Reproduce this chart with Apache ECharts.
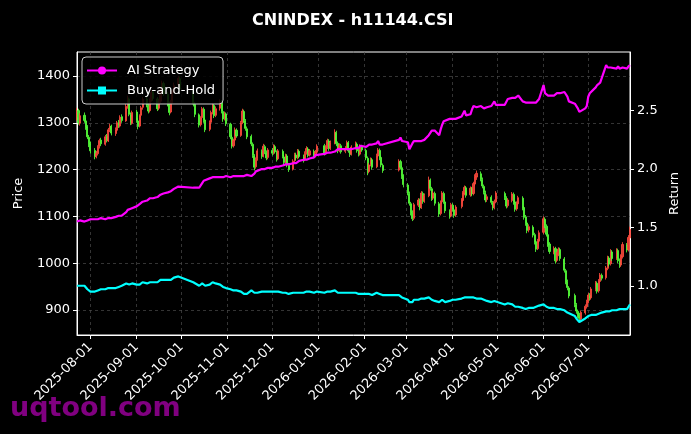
<!DOCTYPE html>
<html>
<head>
<meta charset="utf-8">
<title>CNINDEX - h11144.CSI</title>
<script src="https://cdn.jsdelivr.net/npm/echarts@6/dist/echarts.min.js"></script>
<style>
    html, body { margin: 0; padding: 0; background: #000; }
    #main { width: 691px; height: 434px; }
</style>
</head>
<body>
<div id="main"></div>
<script>
// 交易日历
var firstDay = '2025-07-23';
var lastDay = '2026-07-29';
var holidays = ['2025-10-01', '2025-10-02', '2025-10-03', '2025-10-06', '2025-10-07', '2025-10-08',
    '2026-01-01', '2026-01-02', '2026-02-16', '2026-02-17', '2026-02-18', '2026-02-19', '2026-02-20',
    '2026-02-23', '2026-04-06', '2026-05-01', '2026-05-04', '2026-05-05', '2026-06-19'];

// 刻度
var priceTicks = [900, 1000, 1100, 1200, 1300, 1400];
var returnTicks = [1.0, 1.5, 2.0, 2.5];

// K线 [open, close, low, high]
var candles = [
    // 2025-07
    [1312,1325,1305,1332],[1326,1300,1296,1330],[1299,1315,1294,1320],[1316,1305,1300,1322],[1304,1290,1285,1310],
    [1291,1270,1265,1295],[1269,1255,1248,1274],
    // 2025-08
    [1256,1240,1234,1260],[1241,1228,1222,1246],[1227,1235,1224,1240],[1234,1248,1230,1252],[1249,1262,1245,1266],
    [1263,1255,1250,1268],[1254,1270,1251,1274],[1271,1262,1258,1276],[1261,1285,1259,1289],[1286,1292,1280,1298],
    [1293,1278,1273,1296],[1277,1285,1272,1290],[1284,1300,1281,1304],[1301,1294,1289,1306],[1293,1312,1290,1316],
    [1313,1305,1300,1318],[1304,1335,1302,1340],[1336,1350,1330,1358],[1351,1318,1314,1354],[1317,1300,1295,1322],
    [1299,1322,1296,1326],
    // 2025-09
    [1323,1305,1300,1328],[1304,1292,1286,1310],[1293,1315,1290,1318],[1316,1332,1312,1336],[1333,1350,1328,1355],
    [1351,1338,1333,1356],[1337,1325,1320,1342],[1326,1348,1322,1352],[1349,1365,1345,1370],[1366,1352,1347,1370],
    [1351,1330,1325,1355],[1331,1345,1327,1350],[1346,1370,1342,1374],[1371,1385,1366,1390],[1384,1362,1357,1388],
    [1361,1340,1335,1366],[1341,1322,1316,1345],[1323,1345,1320,1349],[1346,1368,1342,1372],[1369,1380,1363,1386],
    [1381,1395,1376,1400],[1394,1372,1368,1398],
    // 2025-10
    [1368,1340,1335,1372],[1339,1318,1312,1344],[1317,1295,1290,1320],[1296,1310,1292,1314],[1311,1330,1307,1334],
    [1329,1305,1300,1333],[1306,1285,1280,1310],[1286,1300,1282,1305],[1301,1322,1297,1326],[1323,1338,1318,1342],
    [1337,1315,1310,1340],[1316,1330,1312,1335],[1331,1345,1326,1350],[1344,1325,1320,1348],[1324,1308,1302,1328],
    [1309,1320,1305,1324],[1319,1298,1293,1322],
    // 2025-11
    [1297,1270,1265,1300],[1269,1250,1245,1274],[1251,1262,1247,1266],[1263,1285,1260,1290],[1284,1272,1268,1288],
    [1273,1300,1270,1304],[1301,1325,1297,1330],[1324,1305,1300,1328],[1304,1288,1283,1308],[1287,1270,1265,1292],
    [1271,1255,1250,1275],[1254,1230,1225,1258],[1229,1205,1198,1233],[1206,1222,1202,1226],[1223,1240,1219,1245],
    [1239,1228,1223,1243],[1229,1250,1226,1255],[1249,1238,1233,1253],[1237,1225,1220,1241],[1226,1242,1222,1246],
    // 2025-12
    [1241,1235,1230,1246],[1236,1250,1232,1254],[1249,1238,1234,1253],[1237,1222,1217,1241],[1223,1240,1220,1244],
    [1239,1228,1224,1243],[1227,1215,1210,1231],[1216,1230,1212,1234],[1229,1210,1205,1233],[1209,1200,1195,1214],
    [1201,1218,1198,1222],[1219,1232,1215,1236],[1231,1225,1220,1236],[1226,1240,1222,1244],[1239,1228,1224,1243],
    [1227,1220,1215,1232],[1221,1235,1218,1239],[1236,1245,1232,1250],[1244,1230,1226,1248],[1231,1240,1228,1244],
    [1239,1228,1224,1243],[1229,1238,1226,1242],[1237,1250,1234,1254],
    // 2026-01
    [1251,1235,1230,1255],[1236,1248,1232,1252],[1247,1262,1244,1266],[1261,1245,1240,1265],[1246,1258,1242,1262],
    [1257,1280,1254,1286],[1279,1255,1250,1283],[1256,1240,1235,1260],[1241,1252,1237,1256],[1251,1238,1234,1255],
    [1239,1245,1235,1250],[1246,1258,1242,1262],[1257,1240,1236,1261],[1241,1232,1227,1245],[1233,1248,1230,1252],
    [1247,1255,1243,1260],[1254,1240,1236,1258],[1241,1232,1228,1245],[1233,1250,1230,1254],[1249,1242,1238,1253],
    // 2026-02
    [1241,1225,1220,1245],[1224,1195,1188,1228],[1196,1210,1192,1214],[1211,1222,1207,1226],[1221,1205,1200,1225],
    [1206,1230,1203,1234],[1229,1242,1226,1246],[1241,1225,1220,1245],[1226,1210,1205,1230],[1209,1198,1193,1213],
    [1199,1218,1196,1222],[1217,1205,1200,1221],[1204,1185,1180,1208],[1186,1168,1162,1190],
    // 2026-03
    [1167,1150,1145,1171],[1149,1128,1123,1153],[1127,1108,1102,1131],[1109,1095,1090,1113],[1096,1125,1092,1129],
    [1124,1135,1120,1139],[1134,1118,1113,1138],[1119,1150,1116,1154],[1149,1132,1127,1153],[1133,1145,1129,1149],
    [1144,1178,1141,1185],[1177,1160,1155,1181],[1159,1138,1133,1163],[1139,1150,1135,1154],[1149,1128,1123,1153],
    [1127,1105,1099,1131],[1106,1130,1102,1134],[1131,1150,1127,1154],[1149,1132,1127,1153],[1131,1112,1107,1135],
    [1111,1100,1095,1115],[1101,1125,1098,1129],
    // 2026-04
    [1124,1115,1110,1128],[1114,1102,1097,1118],[1103,1120,1099,1124],[1121,1135,1117,1139],[1134,1150,1130,1154],
    [1149,1162,1145,1166],[1161,1145,1140,1165],[1146,1160,1142,1164],[1159,1148,1143,1163],[1149,1170,1145,1174],
    [1169,1185,1165,1190],[1184,1192,1178,1198],[1191,1180,1175,1196],[1179,1165,1160,1183],[1164,1152,1147,1168],
    [1151,1135,1130,1155],[1136,1142,1131,1147],[1141,1130,1125,1145],[1129,1118,1113,1133],[1119,1132,1115,1136],
    [1131,1150,1128,1154],
    // 2026-05
    [1149,1140,1135,1153],[1139,1122,1117,1143],[1123,1135,1119,1139],[1134,1148,1130,1152],[1147,1130,1125,1151],
    [1131,1115,1110,1135],[1116,1128,1112,1132],[1127,1140,1123,1144],[1139,1118,1113,1143],[1119,1098,1093,1122],
    [1099,1085,1080,1103],[1086,1070,1064,1090],[1071,1078,1066,1083],[1077,1060,1055,1081],[1061,1045,1040,1065],
    [1046,1030,1024,1050],[1031,1048,1028,1052],[1047,1065,1043,1070],
    // 2026-06
    [1066,1095,1062,1100],[1094,1080,1075,1098],[1079,1062,1057,1083],[1061,1040,1035,1065],[1041,1025,1020,1045],
    [1024,1032,1019,1036],[1031,1005,999,1035],[1006,1020,1002,1024],[1019,1030,1015,1034],[1029,1010,1005,1033],
    [1009,985,980,1013],[984,960,955,988],[961,948,942,965],[947,930,925,951],[931,912,906,935],
    [911,898,892,915],[897,888,883,901],[889,882,876,894],[881,895,878,899],[894,908,890,912],
    [907,918,903,922],
    // 2026-07
    [917,932,914,936],[931,925,920,936],[926,945,922,949],[944,958,940,962],[957,940,935,961],
    [941,962,937,966],[961,975,957,979],[974,968,963,978],[969,990,965,994],[989,1012,985,1016],
    [1011,998,993,1015],[999,1025,995,1030],[1024,1010,1005,1028],[1011,1028,1007,1032],[1027,1005,1000,1031],
    [1006,995,990,1010],[996,1015,992,1019],[1014,1040,1010,1045],[1039,1028,1023,1043],[1029,1055,1025,1060],
    [1054,1072,1050,1078]
];

// 收益曲线
var aiStrategy = [
    1.55,1.55,1.56,1.55,1.56,1.56,1.57,
    1.57,1.57,1.56,1.57,1.57,1.58,1.57,1.58,1.58,1.59,1.58,1.59,1.59,1.60,1.59,1.60,1.63,1.65,1.64,1.66,1.67,
    1.68,1.69,1.70,1.71,1.72,1.73,1.74,1.75,1.76,1.75,1.76,1.77,1.78,1.79,1.79,1.80,1.80,1.81,1.82,1.83,1.85,1.86,
    1.84,1.83,1.84,1.86,1.88,1.90,1.91,1.92,1.93,1.93,1.92,1.93,1.93,1.94,1.93,1.93,1.94,
    1.93,1.93,1.94,1.93,1.94,1.94,1.93,1.94,1.94,1.95,1.94,1.95,1.96,1.98,1.99,2.00,1.99,2.00,2.01,2.01,
    2.01,2.02,2.02,2.03,2.02,2.03,2.04,2.04,2.05,2.04,2.05,2.06,2.05,2.06,2.07,2.08,2.07,2.08,2.08,2.09,2.10,2.12,2.12,
    2.13,2.14,2.14,2.15,2.14,2.15,2.16,2.17,2.16,2.17,2.17,2.16,2.17,2.18,2.17,2.18,2.19,2.18,2.20,2.19,
    2.19,2.20,2.21,2.20,2.21,2.22,2.24,2.21,2.20,2.21,2.25,2.27,2.24,2.23,
    2.23,2.17,2.18,2.22,2.24,2.24,2.25,2.24,2.25,2.25,2.29,2.31,2.33,2.32,2.33,2.29,2.34,2.38,2.41,2.42,2.43,2.42,
    2.43,2.42,2.43,2.45,2.45,2.50,2.46,2.47,2.51,2.54,2.53,2.53,2.54,2.53,2.52,2.53,2.53,2.54,2.53,2.58,2.55,
    2.55,2.56,2.60,2.61,2.62,2.61,2.62,2.63,2.58,2.57,2.57,2.56,2.57,2.57,2.56,2.57,2.58,2.60,
    2.72,2.65,2.64,2.63,2.64,2.63,2.64,2.65,2.66,2.65,2.66,2.65,2.62,2.58,2.56,2.55,2.52,2.49,2.50,2.52,2.54,
    2.62,2.65,2.66,2.70,2.72,2.73,2.74,2.75,2.89,2.87,2.86,2.87,2.86,2.86,2.88,2.86,2.86,2.87,2.86,2.88,2.89
];
var buyHold = [
    1.00,0.99,1.00,1.00,0.99,0.97,0.96,
    0.95,0.95,0.96,0.96,0.97,0.97,0.97,0.97,0.98,0.98,0.98,0.98,0.99,0.99,0.99,1.00,1.02,1.03,1.01,1.01,1.02,
    1.01,1.00,1.01,1.02,1.03,1.02,1.02,1.03,1.04,1.03,1.03,1.04,1.05,1.06,1.05,1.05,1.04,1.05,1.06,1.07,1.08,1.07,
    1.03,1.02,1.00,1.01,1.02,1.01,1.00,1.01,1.02,1.03,1.02,1.02,1.01,1.00,0.99,1.00,0.98,
    0.97,0.96,0.96,0.97,0.96,0.95,0.94,0.93,0.92,0.93,0.96,0.95,0.94,0.95,0.94,0.95,0.96,0.95,0.94,0.95,
    0.95,0.96,0.95,0.94,0.95,0.94,0.93,0.94,0.93,0.93,0.94,0.94,0.94,0.95,0.94,0.94,0.94,0.95,0.94,0.95,0.94,0.94,0.95,
    0.94,0.95,0.95,0.94,0.95,0.96,0.95,0.94,0.95,0.94,0.94,0.95,0.94,0.93,0.94,0.94,0.93,0.93,0.94,0.93,
    0.93,0.92,0.93,0.93,0.92,0.94,0.94,0.93,0.93,0.92,0.92,0.91,0.90,0.89,
    0.88,0.86,0.85,0.86,0.88,0.88,0.87,0.89,0.88,0.89,0.90,0.89,0.88,0.88,0.87,0.86,0.87,0.88,0.87,0.86,0.87,0.88,
    0.88,0.87,0.88,0.89,0.89,0.90,0.89,0.90,0.89,0.90,0.89,0.89,0.89,0.88,0.88,0.87,0.87,0.86,0.86,0.87,0.86,
    0.84,0.84,0.85,0.84,0.83,0.82,0.82,0.82,0.81,0.81,0.80,0.80,0.81,0.81,0.82,0.82,0.83,0.83,
    0.84,0.83,0.82,0.82,0.81,0.81,0.80,0.80,0.80,0.80,0.79,0.78,0.77,0.76,0.74,0.72,0.71,0.69,0.70,0.72,0.73,
    0.74,0.74,0.75,0.75,0.75,0.76,0.77,0.77,0.78,0.78,0.78,0.79,0.79,0.79,0.79,0.80,0.79,0.80,0.80,0.82,0.84
];

function pad(n) { return (n < 10 ? '0' : '') + n; }
function ymd(d) { return d.getFullYear() + '-' + pad(d.getMonth() + 1) + '-' + pad(d.getDate()); }
function parseDay(s) { var p = s.split('-'); return new Date(+p[0], +p[1] - 1, +p[2]); }

var tradeDays = [];
var endDate = parseDay(lastDay);
for (var d = parseDay(firstDay); d <= endDate; d.setDate(d.getDate() + 1)) {
    var wd = d.getDay();
    if (wd === 0 || wd === 6) continue;
    if (holidays.indexOf(ymd(d)) >= 0) continue;
    tradeDays.push(d.getTime());
}

var kData = [], aiData = [], bhData = [];
for (var i = 0; i < tradeDays.length; i++) {
    if (candles[i]) kData.push([tradeDays[i]].concat(candles[i]));
    if (aiStrategy[i] != null) aiData.push([tradeDays[i], aiStrategy[i]]);
    if (buyHold[i] != null) bhData.push([tradeDays[i], buyHold[i]]);
}

var DAY = 86400000;
var font = 'DejaVu Sans';
var gridLine = { show: true, lineStyle: { color: '#4a4a4a', type: [3, 3], width: 0.7 } };
var myChart = echarts.init(document.getElementById('main'));
var option = {
    animation: false,
    backgroundColor: '#000',
    title: {
        text: 'CNINDEX - h11144.CSI',
        left: 247,
        top: 8,
        textStyle: { color: '#fff', fontSize: 16, fontWeight: 'bold', fontFamily: font }
    },
    legend: {
        data: ['AI Strategy', 'Buy-and-Hold'],
        orient: 'vertical',
        left: 82,
        top: 57,
        itemWidth: 30,
        itemHeight: 10,
        itemGap: 7,
        padding: [7, 8, 7, 4],
        backgroundColor: 'rgba(0,0,0,0.85)',
        borderColor: '#cccccc',
        borderWidth: 1,
        borderRadius: 4,
        textStyle: { color: '#fff', fontSize: 13, fontFamily: font, padding: [0, 0, 0, 5] }
    },
    grid: {
        left: 77,
        right: 61,
        top: 52,
        bottom: 99,
        show: true,
        borderColor: '#fff',
        borderWidth: 1,
        backgroundColor: 'transparent'
    },
    xAxis: {
        type: 'time',
        min: tradeDays[0],
        max: tradeDays[tradeDays.length - 1],
        minInterval: 28 * DAY,
        maxInterval: 31 * DAY,
        axisLine: { show: true, lineStyle: { color: '#fff', width: 1 } },
        axisTick: { show: true, length: 4, lineStyle: { color: '#fff' } },
        axisLabel: {
            rotate: 45,
            color: '#fff',
            fontSize: 13,
            fontFamily: font,
            fontWeight: 'normal',
            margin: 10,
            showMinLabel: false,
            showMaxLabel: false,
            formatter: function (v) { return ymd(new Date(v)); }
        },
        splitLine: gridLine
    },
    yAxis: [{
        type: 'value',
        name: 'Price',
        nameLocation: 'middle',
        nameGap: 52,
        nameTextStyle: { color: '#fff', fontSize: 13, fontFamily: font },
        min: 846.6,
        max: 1451.2,
        axisLine: { show: true, lineStyle: { color: '#fff' } },
        axisTick: { show: true, length: 4, customValues: priceTicks, lineStyle: { color: '#fff' } },
        axisLabel: {
            customValues: priceTicks, color: '#fff', fontSize: 13, fontFamily: font, margin: 7,
            formatter: function (v) { return String(v); }
        },
        splitLine: gridLine
    }, {
        type: 'value',
        name: 'Return',
        nameLocation: 'middle',
        nameGap: 38,
        nameRotate: 90,
        nameTextStyle: { color: '#fff', fontSize: 13, fontFamily: font },
        position: 'right',
        min: 0.578,
        max: 3.003,
        axisLine: { show: true, lineStyle: { color: '#fff' } },
        axisTick: { show: true, length: 4, customValues: returnTicks, lineStyle: { color: '#fff' } },
        axisLabel: {
            customValues: returnTicks, color: '#fff', fontSize: 13, fontFamily: font, margin: 7,
            formatter: function (v) { return v.toFixed(1); }
        },
        splitLine: { show: false }
    }],
    series: [{
        name: 'Price',
        type: 'candlestick',
        yAxisIndex: 0,
        data: kData,
        encode: { x: 0, y: [1, 2, 3, 4] },
        barWidth: 1.6,
        itemStyle: {
            color: '#ff4a3d', color0: '#55ff38',
            borderColor: '#ff4a3d', borderColor0: '#55ff38',
            borderWidth: 1, opacity: 0.85
        },
        z: 1
    }, {
        name: 'AI Strategy',
        type: 'line',
        yAxisIndex: 1,
        data: aiData,
        symbol: 'circle',
        symbolSize: 6,
        showSymbol: false,
        lineStyle: { color: '#ff00ff', width: 2.2 },
        itemStyle: { color: '#ff00ff' },
        z: 3
    }, {
        name: 'Buy-and-Hold',
        type: 'line',
        yAxisIndex: 1,
        data: bhData,
        symbol: 'rect',
        symbolSize: 6,
        showSymbol: false,
        lineStyle: { color: '#00ffff', width: 2.2 },
        itemStyle: { color: '#00ffff' },
        z: 3
    }],
    graphic: [{
        type: 'text',
        left: 10,
        top: 395,
        z: 100,
        style: { text: 'uqtool.com', fill: 'rgba(150,0,150,0.85)', font: 'bold 27px "DejaVu Sans"' }
    }]
};
myChart.setOption(option);
</script>
</body>
</html>
